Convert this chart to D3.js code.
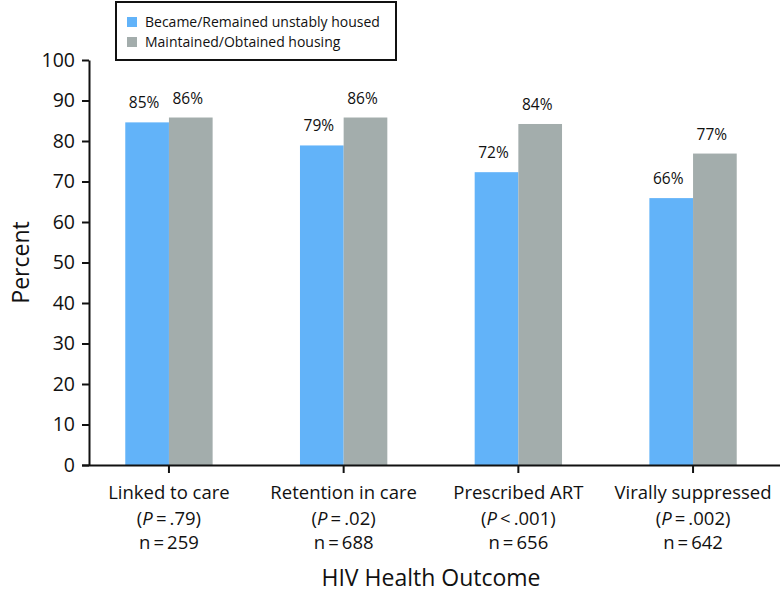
<!DOCTYPE html>
<html>
<head>
<meta charset="utf-8">
<script src="https://cdn.jsdelivr.net/npm/d3@7"></script>
<style>
  html, body { margin: 0; padding: 0; background: #fff; }
  svg text { font-family: "Open Sans", "Noto Sans", sans-serif; fill: #111; }
</style>
</head>
<body>
<svg id="chart" width="780" height="598"></svg>
<script>
// ---- data ----
const categories = ["Linked to care", "Retention in care", "Prescribed ART", "Virally suppressed"];
const pSymbols = ["=", "=", "<", "="];
const pValues = [".79", ".02", ".001", ".002"];
const nValues = [259, 688, 656, 642];
const seriesNames = ["Became/Remained unstably housed", "Maintained/Obtained housing"];
const unstableValues = [84.6, 78.9, 72.3, 65.9];
const housedValues = [85.8, 85.8, 84.2, 76.9];
const yTicks = [0, 10, 20, 30, 40, 50, 60, 70, 80, 90, 100];
const colors = ["#62b3f9", "#a3adac"];
const yLabel = "Percent";
const xLabel = "HIV Health Outcome";

const series = [unstableValues, housedValues];
const svg = d3.select("#chart");

const x = d3.scaleBand().domain(categories).range([81.6, 780.4]).paddingInner(0.5).paddingOuter(0.25);
const xs = d3.scaleBand().domain(seriesNames).range([0, x.bandwidth()]);
const y = d3.scaleLinear().domain([0, 100]).range([465, 60]);
const axisX = 89;

// bars
const groups = svg.append("g").selectAll("g").data(categories).join("g")
  .attr("transform", d => `translate(${x(d)},0)`);
groups.each(function(cat, i) {
  const g = d3.select(this);
  seriesNames.forEach((s, j) => {
    const v = series[j][i];
    g.append("rect")
      .attr("x", xs(s)).attr("width", xs.bandwidth())
      .attr("y", y(v)).attr("height", y(0) - y(v))
      .attr("fill", colors[j]);
    g.append("text")
      .attr("x", xs(s) + xs.bandwidth() / 2 - 3)
      .attr("y", y(v) - 14)
      .attr("text-anchor", "middle")
      .attr("font-size", 15.5)
      .text(Math.round(v) + "%");
  });
});

// y axis
const yAxis = svg.append("g").attr("transform", `translate(${axisX},0)`)
  .call(d3.axisLeft(y).tickValues(yTicks).tickSize(7).tickSizeOuter(0).tickPadding(7));
yAxis.selectAll("path, line").attr("stroke", "#111").attr("stroke-width", 2);
yAxis.selectAll("text").attr("font-size", 19.5).attr("font-family", "Open Sans").attr("fill", "#111");

// x axis
const xAxis = svg.append("g").attr("transform", `translate(0,${y(0)})`)
  .call(d3.axisBottom(x).tickSize(8).tickSizeOuter(0).tickFormat(""));
xAxis.selectAll("path, line").attr("stroke", "#111").attr("stroke-width", 2);

// category labels
const labels = svg.append("g").selectAll("text").data(categories).join("text")
  .attr("text-anchor", "middle")
  .attr("font-size", 18.5)
  .attr("transform", d => `translate(${x(d) + x.bandwidth() / 2},0)`);
labels.append("tspan").attr("x", 0).attr("y", 499).text(d => d);
labels.each(function(d, i) {
  const t = d3.select(this).append("tspan").attr("x", 0).attr("y", 525);
  t.append("tspan").text("(");
  t.append("tspan").attr("font-style", "italic").text("P");
  t.append("tspan").text("\u2009" + pSymbols[i] + "\u2009" + pValues[i] + ")");
});
labels.append("tspan").attr("x", 0).attr("y", 549).text((d, i) => "n\u2009=\u2009" + nValues[i]);

// axis titles
svg.append("text").attr("x", 431).attr("y", 586).attr("text-anchor", "middle")
  .attr("font-size", 23).text(xLabel);
svg.append("text").attr("transform", `translate(29,${(y(0) + y(100)) / 2}) rotate(-90)`)
  .attr("text-anchor", "middle").attr("font-size", 23).text(yLabel);

// legend
const legend = svg.append("g");
legend.append("rect").attr("x", 116).attr("y", 2).attr("width", 280).attr("height", 58)
  .attr("fill", "#fff").attr("stroke", "#111").attr("stroke-width", 2);
seriesNames.forEach((s, j) => {
  legend.append("rect").attr("x", 127).attr("y", 17 + j * 20).attr("width", 10).attr("height", 10)
    .attr("fill", colors[j]);
  legend.append("text").attr("x", 145).attr("y", 27 + j * 20).attr("font-size", 14).text(s);
});
</script>
</body>
</html>
